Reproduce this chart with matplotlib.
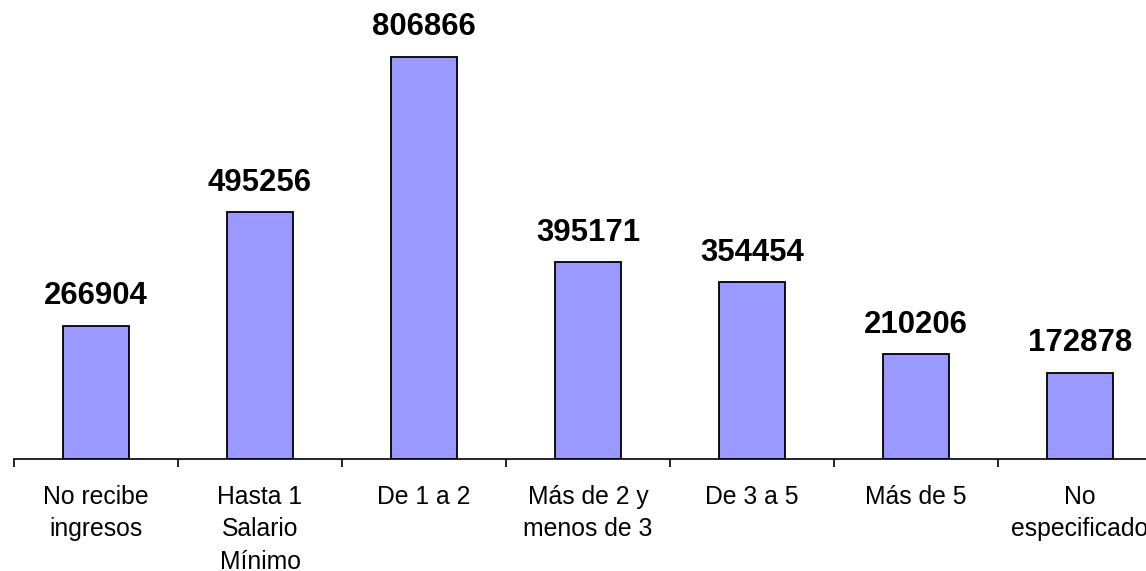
import matplotlib.pyplot as plt
import numpy as np

plt.rcParams['font.family'] = ['Liberation Sans', 'DejaVu Sans']

categorias = ['No recibe\ningresos', 'Hasta 1\nSalario\nMínimo', 'De 1 a 2',
              'Más de 2 y\nmenos de 3', 'De 3 a 5', 'Más de 5', 'No\nespecificado']
poblacion = [266904, 495256, 806866, 395171, 354454, 210206, 172878]

fig = plt.figure(figsize=(11.46, 5.71), dpi=100)
# el eje se sale un poco por la derecha, igual que el original
ax = fig.add_axes([14 / 1146, 112 / 571, 1148 / 1146, 459 / 571])

x = np.arange(len(categorias))
barras = ax.bar(x, poblacion, width=0.40, color='#9999FF', edgecolor='black', linewidth=1.3)

for xi, v in zip(x, poblacion):
    ax.annotate(str(v), (xi, v), xytext=(0, 10.5), textcoords='offset points',
                ha='center', va='bottom', fontsize=22.4, fontweight='bold')

ax.set_xlim(-0.5, len(categorias) - 0.5)
ax.set_ylim(0, max(poblacion) * 459 / 402)

# marcas entre categorias, etiquetas al centro
ax.set_xticks(np.arange(len(categorias) + 1) - 0.5)
ax.set_xticklabels([])
ax.tick_params(axis='x', which='major', direction='out', length=6, width=1.2)
ax.set_xticks(x, minor=True)
ax.set_xticklabels(categorias, minor=True, fontsize=17.8, linespacing=1.45)
ax.tick_params(axis='x', which='minor', length=0, pad=18.5)

ax.set_yticks([])
for lado in ['left', 'right', 'top']:
    ax.spines[lado].set_visible(False)
ax.spines['bottom'].set_linewidth(1.2)

fig.savefig('out.png', dpi=100)
